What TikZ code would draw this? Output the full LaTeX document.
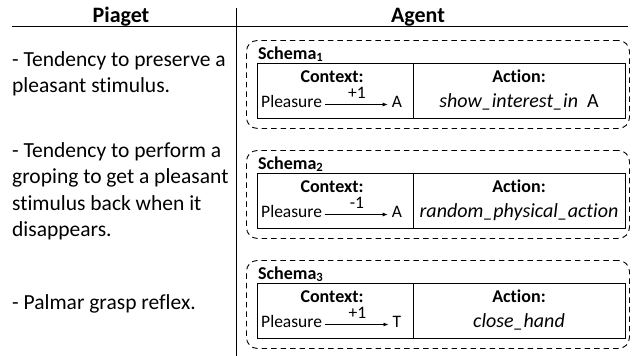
\documentclass[tikz,border=0pt]{standalone}
\usepackage{fontspec}
\setmainfont{Carlito}[Ligatures=NoCommon]
\usetikzlibrary{arrows.meta}
\begin{document}
\begin{tikzpicture}[x=1pt,y=-1pt,
  rule/.style={line width=0.9pt},
  headtext/.style={font=\fontsize{22}{26}\selectfont\bfseries, inner sep=0pt, anchor=base},
  bodytext/.style={font=\fontsize{21.5}{26.6}\selectfont, inner sep=0pt, text width=226pt, align=flush left, anchor=base west},
  schemabox/.style={draw, dash pattern=on 5.5pt off 4pt, rounded corners=11pt, line width=0.9pt,
    minimum width=383pt, minimum height=88pt, inner sep=0pt, anchor=north west},
  cellbox/.style={draw, line width=1.1pt, minimum height=55pt, inner sep=0pt, anchor=north west},
  schemaname/.style={font=\fontsize{18}{21}\selectfont\bfseries, inner sep=0pt, anchor=base west},
  cellhead/.style={font=\fontsize{18}{22}\selectfont\bfseries, inner sep=0pt, anchor=base},
  celltext/.style={font=\fontsize{17.5}{21}\selectfont, inner sep=0pt},
  acttext/.style={font=\fontsize{20}{24}\selectfont, inner sep=0pt, anchor=base},
  ctxarrow/.style={line width=0.8pt, -{Latex[length=5pt,width=4pt]}, shorten <=2.5pt, shorten >=4pt}
]
\useasboundingbox (0,0) rectangle (632,356);

% column headings and rules
\node[headtext] (piaget) at (121,23) {Piaget};
\node[headtext] (agent) at (418,23) {Agent};
\coordinate (hl) at (12,26);
\coordinate (hr) at (628,26);
\coordinate (vt) at (236,8);
\coordinate (vb) at (236,356);
\draw[rule] (hl) -- (hr);
\draw[rule] (vt) -- (vb);

% behaviours described by Piaget
\node[bodytext] (beh1) at (12,66) {- Tendency to preserve a\\pleasant stimulus.};
\node[bodytext] (beh2) at (12,157) {- Tendency to perform a\\groping to get a pleasant\\stimulus back when it\\disappears.};
\node[bodytext] (beh3) at (12,309) {- Palmar grasp reflex.};

% schemas of the agent
\foreach \k/\t/\w/\tgt/\act in {
  1/63/+1/A/{\textit{show\_interest\_in}\hspace{0.45em}A},
  2/173/-1/A/{\textit{random\_physical\_action}},
  3/283/+1/T/{\textit{close\_hand}}}{
  \node[schemabox] (sch\k) at (246,\t-23) {};
  \node[cellbox, minimum width=156pt] (ctx\k) at (257,\t) {};
  \node[cellbox, minimum width=212pt] (act\k) at (413,\t) {};
  \node[schemaname] (name\k) at (258,\t-4) {Schema\textsubscript{\k}};
  \node[cellhead] (ctxh\k) at (332,\t+19) {Context:};
  \node[cellhead] (acth\k) at (519,\t+19) {Action:};
  \node[celltext, anchor=base west] (pl\k) at (261,\t+44) {Pleasure};
  \node[celltext, anchor=base] (tg\k) at (397,\t+44) {\tgt};
  \draw[ctxarrow] ([yshift=2.5pt]pl\k.base east) -- node[celltext, anchor=base, yshift=6pt] (w\k) {\w} ([yshift=2.5pt]tg\k.base west);
  \node[acttext] (ac\k) at (519,\t+44) {\act};
}
\end{tikzpicture}
\end{document}
